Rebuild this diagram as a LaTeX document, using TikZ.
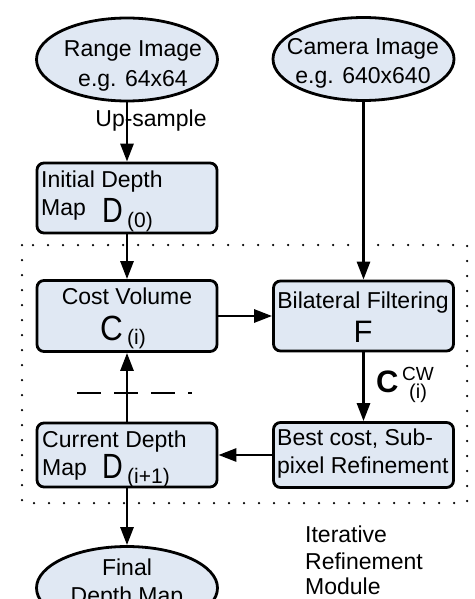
\documentclass[tikz,border=0pt]{standalone}
\usepackage{fontspec}
\setmainfont{Liberation Sans}
\usetikzlibrary{arrows.meta,shapes.geometric}
\definecolor{boxfill}{RGB}{224,232,243}
\begin{document}
\begin{tikzpicture}[x=1pt,y=-1pt,
  box/.style={draw, line width=2.8pt, fill=boxfill, rounded corners=7pt, minimum width=180pt, inner sep=0pt},
  ell/.style={draw, line width=2.8pt, fill=boxfill, ellipse, minimum width=181pt, minimum height=83pt, inner sep=0pt},
  arr/.style={line width=2.8pt, -{Triangle[length=18pt,width=13pt]}},
  txt/.style={font=\fontsize{23}{26}\selectfont, inner sep=0pt},
  sub/.style={font=\fontsize{21}{24}\selectfont, inner sep=0pt, anchor=base west},
  big/.style={font=\fontsize{35}{35}\selectfont, inner sep=0pt, anchor=base west},
  ]
\useasboundingbox (0,0) rectangle (474,599);
\clip (0,0) rectangle (474,599);
\fill[white] (0,0) rectangle (474,599);

% dotted module frame
\draw[line width=2.5pt, line cap=round, dash pattern=on 0pt off 15pt] (22,245) rectangle (467,503);

% shapes
\node[ell] (range) at (127,59.5) {};
\node[ell] (camera) at (363.5,59) {};
\node[box, minimum height=70pt] (init) at (127,198) {};
\node[box, minimum height=71pt] (cost) at (127,316) {};
\node[box, minimum height=70pt] (bil) at (363.5,316) {};
\node[box, minimum height=65pt] (best) at (363.5,455) {};
\node[box, minimum height=64pt] (cur) at (127,455) {};
\node[ell] (final) at (127,588) {};

% connectors
\draw[arr] (range) -- (init);
\draw[arr] (init) -- (cost);
\draw[arr] (camera) -- (bil);
\draw[arr] (cost) -- (bil);
\draw[arr] (bil) -- (best);
\draw[arr] (best) -- (cur);
\draw[arr] (cur) -- (cost);
\draw[arr] (cur) -- (final);

% dashed separator
\draw[line width=2.8pt, dash pattern=on 24pt off 13pt] (77,393) -- (192,393);

% texts
\node[txt, anchor=base] (t1) at (133,57) {Range Image};
\node[txt, anchor=base] (t2) at (133,87) {e.g. 64x64};
\node[txt, anchor=base] (t3) at (363,55) {Camera Image};
\node[txt, anchor=base] (t4) at (363,84) {e.g. 640x640};
\node[txt, anchor=base] (t5) at (151,126) {Up-sample};

\node[txt, anchor=base west] (t6) at (41,187) {Initial Depth};
\node[txt, anchor=base west] (t7) at (41,215) {Map};
\node[big] (t8) at (102,222) {\scalebox{0.82}[1]{D}};
\node[sub] (t9) at (127,227) {(0)};

\node[txt, anchor=base] (t10) at (127,304) {Cost Volume};
\node[big] (t11) at (100,340) {\scalebox{0.9}[1]{C}};
\node[sub] (t12) at (127,344) {(i)};

\node[txt, anchor=base] (t13) at (363,308) {Bilateral Filtering};
\node[txt, anchor=base, font=\fontsize{31}{31}\selectfont] (t14) at (363,342) {F};

\node[anchor=base west, inner sep=0pt, font=\fontsize{31}{31}\selectfont\bfseries] (t15) at (376,392) {C};
\node[anchor=base west, inner sep=0pt, font=\fontsize{19}{19}\selectfont] (t16) at (402,380) {CW};
\node[anchor=base west, inner sep=0pt, font=\fontsize{20}{20}\selectfont] (t17) at (409,398) {(i)};

\node[txt, anchor=base west] (t18) at (277,445) {Best cost, Sub-};
\node[txt, anchor=base west] (t19) at (277,473) {pixel Refinement};

\node[txt, anchor=base west] (t20) at (42,447) {Current Depth};
\node[txt, anchor=base west] (t21) at (42,475) {Map};
\node[big] (t22) at (102,478) {\scalebox{0.82}[1]{D}};
\node[sub] (t23) at (127,483) {(i+1)};

\node[txt, anchor=base] (t24) at (127,575) {Final};
\node[txt, anchor=base] (t25) at (127,603) {Depth Map};

\node[txt, anchor=base west] (t26) at (305,542) {Iterative};
\node[txt, anchor=base west] (t27) at (305,569) {Refinement};
\node[txt, anchor=base west] (t28) at (305,594) {Module};
\end{tikzpicture}
\end{document}
